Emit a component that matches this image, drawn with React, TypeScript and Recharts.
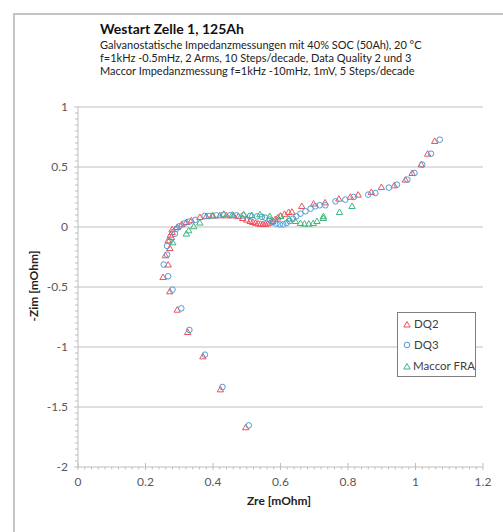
import { ScatterChart, Scatter, XAxis, YAxis, ReferenceLine } from 'recharts';

// Nyquist data [Zre, -Zim] in mOhm
const DQ2: [number, number][] = [
  [0.497, -1.669], [0.422, -1.353], [0.370, -1.078], [0.325, -0.875], [0.294, -0.689],
  [0.272, -0.536], [0.252, -0.417], [0.267, -0.313], [0.259, -0.236], [0.272, -0.175],
  [0.267, -0.111], [0.277, -0.083], [0.274, -0.064], [0.279, -0.042], [0.279, -0.019],
  [0.294, 0.0], [0.307, 0.022], [0.321, 0.042], [0.336, 0.056], [0.361, 0.083],
  [0.380, 0.090], [0.400, 0.095], [0.420, 0.097], [0.440, 0.097], [0.461, 0.097],
  [0.475, 0.090], [0.488, 0.075], [0.500, 0.062], [0.510, 0.050], [0.518, 0.042],
  [0.526, 0.035], [0.534, 0.030], [0.541, 0.027], [0.548, 0.025], [0.555, 0.026],
  [0.562, 0.030], [0.569, 0.037], [0.576, 0.050], [0.584, 0.065], [0.592, 0.080],
  [0.600, 0.095], [0.612, 0.110], [0.624, 0.125], [0.634, 0.127], [0.663, 0.175],
  [0.698, 0.195], [0.732, 0.205], [0.773, 0.236], [0.807, 0.252], [0.830, 0.270],
  [0.869, 0.292], [0.899, 0.333], [0.937, 0.347], [0.970, 0.395], [0.990, 0.450],
  [1.017, 0.522], [1.036, 0.611], [1.057, 0.717],
];

const DQ3: [number, number][] = [
  [0.506, -1.653], [0.428, -1.333], [0.376, -1.064], [0.330, -0.858], [0.306, -0.678],
  [0.280, -0.522], [0.267, -0.411], [0.254, -0.313], [0.264, -0.230], [0.264, -0.158],
  [0.272, -0.120], [0.287, -0.056], [0.292, -0.014], [0.300, 0.006], [0.315, 0.030],
  [0.330, 0.045], [0.348, 0.060], [0.375, 0.092], [0.388, 0.092], [0.410, 0.097],
  [0.430, 0.100], [0.450, 0.097], [0.470, 0.097], [0.490, 0.095], [0.510, 0.092],
  [0.530, 0.088], [0.545, 0.085], [0.555, 0.078], [0.568, 0.062], [0.578, 0.042],
  [0.588, 0.028], [0.598, 0.022], [0.608, 0.022], [0.618, 0.033], [0.627, 0.050],
  [0.637, 0.069], [0.647, 0.089], [0.659, 0.111], [0.674, 0.131], [0.689, 0.153],
  [0.703, 0.172], [0.716, 0.181], [0.733, 0.181], [0.763, 0.214], [0.792, 0.228],
  [0.817, 0.250], [0.860, 0.270], [0.881, 0.283], [0.921, 0.328], [0.945, 0.353],
  [0.976, 0.395], [0.997, 0.450], [1.020, 0.520], [1.046, 0.611], [1.072, 0.728],
];

const MACCOR: [number, number][] = [
  [0.281, -0.128], [0.321, -0.055], [0.328, -0.028], [0.343, 0.006], [0.361, 0.037],
  [0.398, 0.097], [0.432, 0.110], [0.457, 0.103], [0.491, 0.106], [0.515, 0.100],
  [0.539, 0.106], [0.568, 0.092], [0.600, 0.092], [0.625, 0.070], [0.644, 0.050],
  [0.659, 0.033], [0.671, 0.028], [0.684, 0.028], [0.697, 0.033], [0.708, 0.050],
  [0.727, 0.075], [0.727, 0.090], [0.775, 0.125], [0.812, 0.175],
];

const TITLE = 'Westart Zelle 1, 125Ah';
const SUBTITLE = [
  'Galvanostatische Impedanzmessungen mit 40% SOC (50Ah), 20 °C',
  'f=1kHz -0.5mHz, 2 Arms, 10 Steps/decade, Data Quality 2 und 3',
  'Maccor Impedanzmessung f=1kHz -10mHz, 1mV, 5 Steps/decade',
];
const X_LABEL = 'Zre [mOhm]';
const Y_LABEL = '-Zim [mOhm]';
const Y_MAJOR = [-2, -1.5, -1, -0.5, 0, 0.5, 1];

const RED = '#f0505a';
const BLUE = '#4f9bd6';
const GREEN = '#3fb67e';
const AXIS = '#bfbfbf';
const FONT = 'Lato, "Open Sans", sans-serif';

// minor tick positions (0.02 on x, 0.05 on y)
const xTicks = Array.from({ length: 61 }, (_, i) => Math.round(i * 2) / 100);
const yTicks = Array.from({ length: 61 }, (_, i) => Math.round((-2 + i * 0.05) * 100) / 100);

const toPoints = (s: [number, number][]) => s.map(([zre, zim]) => ({ zre, zim }));

const isMultiple = (v: number, step: number) => Math.abs(v / step - Math.round(v / step)) < 1e-6;

function Triangle({ cx, cy, color }: { cx: number; cy: number; color: string }) {
  return (
    <path
      d={`M${cx},${cy - 3} L${cx + 3.2},${cy + 2.5} L${cx - 3.2},${cy + 2.5} Z`}
      fill="none"
      stroke={color}
      strokeWidth={1}
    />
  );
}

function Circle({ cx, cy, color }: { cx: number; cy: number; color: string }) {
  return <circle cx={cx} cy={cy} r={2.8} fill="none" stroke={color} strokeWidth={1} />;
}

function XTick(props: any) {
  const { x, y, payload } = props;
  const v = payload.value;
  const major = isMultiple(v, 0.2);
  return (
    <g>
      {major ? (
        <line x1={x} x2={x} y1={y - 4} y2={y + 3} stroke={AXIS} />
      ) : (
        <line x1={x} x2={x} y1={y} y2={y + 2.5} stroke={AXIS} />
      )}
      {major && (
        <text x={x} y={y + 19} textAnchor="middle" fontSize={12} fill="#595959" fontFamily={FONT}>
          {String(v)}
        </text>
      )}
    </g>
  );
}

function YTick(props: any) {
  const { x, y, payload } = props;
  const v = payload.value;
  const major = isMultiple(v, 0.5);
  return (
    <g>
      <line x1={x - (major ? 4 : 3)} x2={x} y1={y} y2={y} stroke={AXIS} />
      {major && (
        <text x={x - 10} y={y + 4} textAnchor="end" fontSize={12} fill="#595959" fontFamily={FONT}>
          {String(v)}
        </text>
      )}
    </g>
  );
}

function LegendRow({ label, color, circle }: { label: string; color: string; circle?: boolean }) {
  return (
    <div style={{ height: 21, display: 'flex', alignItems: 'center', whiteSpace: 'nowrap' }}>
      <svg width={12} height={10} style={{ marginLeft: 4 }}>
        {circle ? <Circle cx={5} cy={5} color={color} /> : <Triangle cx={5} cy={5.5} color={color} />}
      </svg>
      <span>{label}</span>
    </div>
  );
}

export default function App() {
  return (
    <div
      style={{
        position: 'absolute',
        left: 0,
        top: 0,
        width: 503,
        height: 532,
        overflow: 'hidden',
        background: '#fff',
        fontFamily: FONT,
      }}
    >
      <div
        style={{
          position: 'absolute',
          left: 13,
          top: 13,
          width: 600,
          height: 600,
          border: '2px solid #c4c4c4',
        }}
      />
      <ScatterChart
        width={503}
        height={532}
        margin={{ top: 107, right: 20, bottom: 35, left: 0 }}
        style={{ position: 'absolute', left: 0, top: 0 }}
      >
        <XAxis
          type="number"
          dataKey="zre"
          domain={[0, 1.2]}
          ticks={xTicks}
          interval={0}
          tickSize={0}
          tickMargin={0}
          tickLine={false}
          height={30}
          axisLine={{ stroke: AXIS }}
          tick={(p: any) => <XTick {...p} />}
        />
        <YAxis
          type="number"
          dataKey="zim"
          domain={[-2, 1]}
          ticks={yTicks}
          interval={0}
          tickSize={0}
          tickMargin={0}
          tickLine={false}
          width={78}
          axisLine={{ stroke: AXIS }}
          tick={(p: any) => <YTick {...p} />}
        />
        {Y_MAJOR.filter((v) => v > -2).map((v) => (
          <ReferenceLine key={v} y={v} stroke={AXIS} strokeWidth={1} ifOverflow="extendDomain" />
        ))}
        <Scatter
          name="DQ2"
          data={toPoints(DQ2)}
          isAnimationActive={false}
          shape={(p: any) => <Triangle cx={p.cx} cy={p.cy} color={RED} />}
        />
        <Scatter
          name="DQ3"
          data={toPoints(DQ3)}
          isAnimationActive={false}
          shape={(p: any) => <Circle cx={p.cx} cy={p.cy} color={BLUE} />}
        />
        <Scatter
          name="Maccor FRA"
          data={toPoints(MACCOR)}
          isAnimationActive={false}
          shape={(p: any) => <Triangle cx={p.cx} cy={p.cy} color={GREEN} />}
        />
      </ScatterChart>

      <div style={{ position: 'absolute', left: 100, top: 19, color: '#111' }}>
        <div style={{ fontSize: 14, fontWeight: 700, lineHeight: '19px' }}>{TITLE}</div>
        {SUBTITLE.map((s) => (
          <div key={s} style={{ fontSize: 11, lineHeight: '13px', color: '#222', whiteSpace: 'nowrap' }}>
            {s}
          </div>
        ))}
      </div>

      <div
        style={{
          position: 'absolute',
          left: 0,
          width: 558,
          top: 493,
          textAlign: 'center',
          fontSize: 12,
          fontWeight: 700,
          color: '#222',
        }}
      >
        {X_LABEL}
      </div>
      <div
        style={{
          position: 'absolute',
          left: 33,
          top: 286,
          transform: 'translate(-50%, -50%) rotate(-90deg)',
          whiteSpace: 'nowrap',
          fontSize: 12,
          fontWeight: 700,
          color: '#222',
        }}
      >
        {Y_LABEL}
      </div>

      <div
        style={{
          position: 'absolute',
          left: 397,
          top: 312,
          width: 77,
          height: 63,
          border: '1px solid #7f7f7f',
          background: '#fff',
          fontSize: 11.5,
          color: '#404040',
        }}
      >
        <LegendRow label="DQ2" color={RED} />
        <LegendRow label="DQ3" color={BLUE} circle />
        <LegendRow label="Maccor FRA" color={GREEN} />
      </div>
    </div>
  );
}
